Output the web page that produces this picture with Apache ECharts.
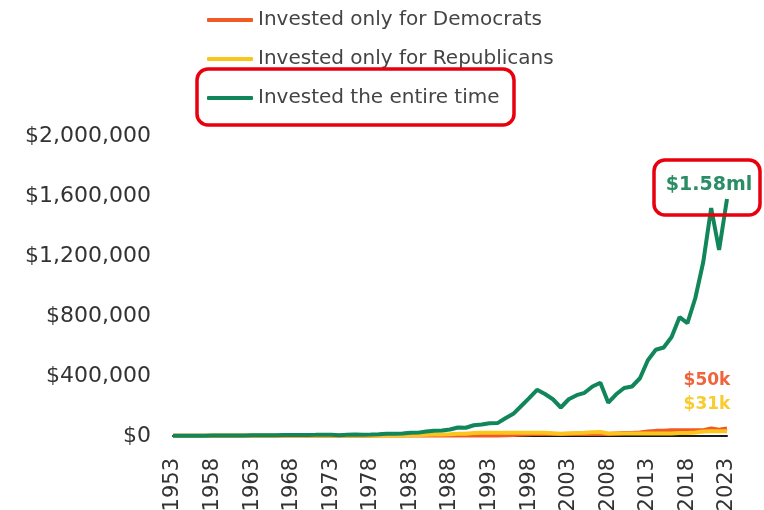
<!DOCTYPE html>
<html>
<head>
<meta charset="utf-8">
<script src="https://cdn.jsdelivr.net/npm/echarts@6/dist/echarts.min.js"></script>
<style>
  html, body { margin: 0; padding: 0; background: #ffffff; }
  #chart { width: 764px; height: 510px; }
</style>
</head>
<body>
<div id="chart"></div>
<script>
// Years on the x axis
var years = [];
for (var y = 1953; y <= 2023; y++) years.push(String(y));

// Growth of $1,000 (values in thousands of dollars)
var democratsOnly = [
  1.0, 1.0, 1.0, 1.0, 1.0, 1.0, 1.0, 1.0,
  1.3, 1.17, 1.43, 1.67, 1.87, 1.7, 2.1, 2.33,
  2.33, 2.33, 2.33, 2.33, 2.33, 2.33, 2.33, 2.33,
  2.16, 2.3, 2.75, 3.65,
  3.65, 3.65, 3.65, 3.65, 3.65, 3.65, 3.65, 3.65, 3.65, 3.65, 3.65, 3.65,
  4.0, 4.1, 5.6, 6.9, 9.2, 11.8, 14.4, 13.2,
  13.2, 13.2, 13.2, 13.2, 13.2, 13.2, 13.2, 13.2,
  16.7, 19.2, 19.6, 22.8, 30.0, 34.2, 34.8, 39.0,
  39.0, 39.0, 39.0, 39.0,
  50.7, 41.7, 50.0
];
var republicansOnly = [
  1.0, 1.5, 2.0, 2.1, 1.9, 2.7, 3.0, 3.0,
  3.0, 3.0, 3.0, 3.0, 3.0, 3.0, 3.0, 3.0,
  2.8, 2.9, 3.3, 3.9, 3.3, 2.5, 3.4, 4.1,
  4.1, 4.1, 4.1, 4.1,
  3.9, 4.7, 5.8, 6.1, 8.1, 9.6, 10.1, 11.8, 15.5, 15.0, 19.6, 21.1,
  21.1, 21.1, 21.1, 21.1, 21.1, 21.1, 21.1, 21.1,
  18.6, 14.6, 18.6, 20.6, 21.6, 25.0, 26.5, 16.7,
  16.7, 16.7, 16.7, 16.7, 16.7, 16.7, 16.7, 16.7,
  20.3, 19.4, 23.8, 29.8,
  31.0, 31.0, 31.0
];
var entireTime = [
  1.0, 1.5, 2.0, 2.1, 1.9, 2.7, 3.0, 3.0,
  3.9, 3.5, 4.3, 5.0, 5.6, 5.1, 6.3, 7.0,
  6.4, 6.6, 7.6, 9.0, 7.7, 5.7, 7.8, 9.6,
  8.9, 9.5, 11.3, 15.0,
  14.2, 17.3, 21.2, 22.5, 29.6, 35.1, 37.0, 43.1, 56.7, 55.0, 71.6, 77.1,
  84.8, 86.0, 118.0, 148.0, 200.0, 252.0, 308.0, 280.0,
  245.0, 190.0, 245.0, 272.0, 288.0, 330.0, 355.0, 222.0,
  278.0, 320.0, 330.0, 385.0, 505.0, 575.0, 590.0, 660.0,
  792.0, 752.0, 920.0, 1160.0,
  1520.0, 1240.0, 1580.0
];

// End-of-period labels
var endLabels = ['$50k', '$31k', '$1.58ml'];
var seriesNames = ['Invested only for Democrats', 'Invested only for Republicans', 'Invested the entire time'];
var colors = ['#f15a24', '#fcc51c', '#10865a'];
var labelColors = ['#f0643c', '#f8cc2e', '#2a8d66'];

var yTicks = { min: 0, max: 2000000, step: 400000 };

var font = 'DejaVu Sans';

function toDollars(arr) {
  return arr.map(function (v) { return v * 1000; });
}

function lineSeries(i, values, z, labelOffset, labelSize) {
  return {
    name: seriesNames[i],
    type: 'line',
    data: toDollars(values),
    symbol: 'none',
    lineStyle: { width: 4, color: colors[i] },
    itemStyle: { color: colors[i] },
    z: z,
    endLabel: {
      show: true,
      formatter: endLabels[i],
      distance: 0,
      align: 'center',
      verticalAlign: 'middle',
      offset: labelOffset,
      color: labelColors[i],
      fontFamily: font,
      fontWeight: 'bold',
      fontSize: labelSize
    }
  };
}

var chart = echarts.init(document.getElementById('chart'), null, { renderer: 'canvas' });

chart.setOption({
  animation: false,
  backgroundColor: '#ffffff',
  grid: { left: 173, right: 37, top: 136, bottom: 74, containLabel: false, outerBoundsMode: 'none' },
  legend: {
    orient: 'vertical',
    left: 202,
    top: 5,
    itemGap: 19,
    itemWidth: 46,
    itemHeight: 4,
    icon: 'roundRect',
    textStyle: { fontFamily: font, fontSize: 20, color: '#444444', lineHeight: 20 },
    data: seriesNames
  },
  xAxis: {
    type: 'category',
    data: years,
    boundaryGap: false,
    axisLine: { show: true, lineStyle: { color: '#1a1a1a', width: 2 } },
    axisTick: { show: false },
    axisLabel: {
      interval: 4,
      rotate: 90,
      margin: 22,
      fontFamily: font,
      fontSize: 21,
      color: '#333333'
    },
    splitLine: { show: false }
  },
  yAxis: {
    type: 'value',
    min: yTicks.min,
    max: yTicks.max,
    interval: yTicks.step,
    axisLine: { show: false },
    axisTick: { show: false },
    splitLine: { show: false },
    axisLabel: {
      margin: 22,
      fontFamily: font,
      fontSize: 22,
      color: '#333333',
      formatter: function (v) { return '$' + v.toLocaleString('en-US'); }
    }
  },
  series: [
    lineSeries(0, democratsOnly, 2, [-20, -48], 17),
    lineSeries(1, republicansOnly, 3, [-20, -27], 17),
    lineSeries(2, entireTime, 4, [-18, -14], 19)
  ],
  graphic: [
    {
      type: 'rect',
      shape: { x: 197, y: 69, width: 317, height: 56, r: 11 },
      style: { fill: 'none', stroke: '#e8000e', lineWidth: 3.5 },
      z: 100
    },
    {
      type: 'rect',
      shape: { x: 654, y: 160, width: 106, height: 55, r: 11 },
      style: { fill: 'none', stroke: '#e8000e', lineWidth: 3.5 },
      z: 100
    }
  ]
});
</script>
</body>
</html>
